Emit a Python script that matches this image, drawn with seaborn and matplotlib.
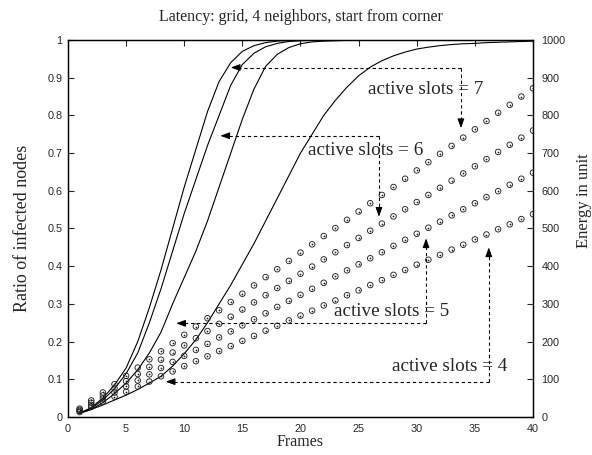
import matplotlib
matplotlib.use("Agg")
import matplotlib.pyplot as plt
import numpy as np
import pandas as pd
import seaborn as sns

# ---------------- data ----------------
frames = list(range(1, 41))
slot_labels = ["7", "6", "5", "4"]

ratio_s7 = [0.01, 0.025, 0.05, 0.085, 0.13, 0.20, 0.29, 0.39, 0.50, 0.61,
            0.71, 0.81, 0.89, 0.94, 0.97, 0.985, 0.993, 0.997, 0.999, 1.0,
            1.0, 1.0, 1.0, 1.0, 1.0, 1.0, 1.0, 1.0, 1.0, 1.0,
            1.0, 1.0, 1.0, 1.0, 1.0, 1.0, 1.0, 1.0, 1.0, 1.0]
ratio_s6 = [0.01, 0.023, 0.045, 0.075, 0.115, 0.17, 0.25, 0.34, 0.44, 0.54,
            0.63, 0.72, 0.80, 0.88, 0.935, 0.965, 0.982, 0.991, 0.996, 0.998,
            0.999, 1.0, 1.0, 1.0, 1.0, 1.0, 1.0, 1.0, 1.0, 1.0,
            1.0, 1.0, 1.0, 1.0, 1.0, 1.0, 1.0, 1.0, 1.0, 1.0]
ratio_s5 = [0.01, 0.02, 0.038, 0.062, 0.09, 0.125, 0.17, 0.225, 0.30, 0.37,
            0.44, 0.52, 0.61, 0.70, 0.79, 0.87, 0.93, 0.962, 0.98, 0.99,
            0.995, 0.997, 0.998, 0.999, 1.0, 1.0, 1.0, 1.0, 1.0, 1.0,
            1.0, 1.0, 1.0, 1.0, 1.0, 1.0, 1.0, 1.0, 1.0, 1.0]
ratio_s4 = [0.01, 0.02, 0.032, 0.045, 0.058, 0.073, 0.09, 0.108, 0.135, 0.168,
            0.205, 0.25, 0.30, 0.35, 0.405, 0.46, 0.52, 0.58, 0.64, 0.70,
            0.75, 0.80, 0.84, 0.875, 0.905, 0.928, 0.945, 0.958, 0.968, 0.976,
            0.981, 0.985, 0.988, 0.99, 0.991, 0.993, 0.994, 0.995, 0.996, 0.997]

energy_s7 = [22, 44, 65, 87, 109, 131, 153, 174, 196, 218,
             240, 262, 283, 305, 327, 349, 371, 392, 414, 436,
             458, 480, 501, 523, 545, 567, 589, 610, 632, 654,
             676, 698, 719, 741, 763, 785, 807, 828, 850, 872]
energy_s6 = [19, 38, 57, 76, 95, 114, 133, 152, 171, 190,
             209, 228, 247, 266, 285, 304, 323, 342, 361, 380,
             399, 418, 437, 456, 475, 494, 513, 532, 551, 570,
             589, 608, 627, 646, 665, 684, 703, 722, 741, 760]
energy_s5 = [16, 32, 49, 65, 81, 97, 113, 130, 146, 162,
             178, 194, 211, 227, 243, 259, 275, 292, 308, 324,
             340, 356, 373, 389, 405, 421, 437, 454, 470, 486,
             502, 518, 535, 551, 567, 583, 599, 616, 632, 648]
energy_s4 = [13, 27, 40, 54, 67, 81, 94, 108, 121, 135,
             148, 161, 175, 188, 202, 215, 229, 242, 256, 269,
             282, 296, 309, 323, 336, 350, 363, 377, 390, 404,
             417, 430, 444, 457, 471, 484, 498, 511, 525, 538]

title_text = "Latency: grid, 4 neighbors, start from corner"
x_label = "Frames"
y_label = "Ratio of infected nodes"
y2_label = "Energy in unit"
x_ticks = [0, 5, 10, 15, 20, 25, 30, 35, 40]
y_ticks = [0, 0.1, 0.2, 0.3, 0.4, 0.5, 0.6, 0.7, 0.8, 0.9, 1.0]
y_tick_labels = ["0", "0.1", "0.2", "0.3", "0.4", "0.5", "0.6", "0.7", "0.8", "0.9", "1"]
y2_ticks = [0, 100, 200, 300, 400, 500, 600, 700, 800, 900, 1000]
callout_texts = ["active slots = 7", "active slots = 6", "active slots = 5", "active slots = 4"]

# ---------------- tables ----------------
ratios = [ratio_s7, ratio_s6, ratio_s5, ratio_s4]
energies = [energy_s7, energy_s6, energy_s5, energy_s4]
df_ratio = pd.concat([pd.DataFrame({"frame": frames, "ratio": r, "slots": s})
                      for r, s in zip(ratios, slot_labels)], ignore_index=True)
df_energy = pd.concat([pd.DataFrame({"frame": frames, "energy": e, "slots": s})
                       for e, s in zip(energies, slot_labels)], ignore_index=True)

# ---------------- style ----------------
sns.set_style("white")
SERIF = ["Liberation Serif", "DejaVu Serif"]
SANS = ["Liberation Sans", "DejaVu Sans"]
plt.rcParams["font.family"] = SERIF
plt.rcParams["axes.linewidth"] = 0.9

fig = plt.figure(figsize=(5.92, 4.55), dpi=100)
ax = fig.add_axes([0.11486, 0.08352, 0.78547, 0.82857])
ax2 = ax.twinx()

sns.lineplot(data=df_ratio, x="frame", y="ratio", hue="slots",
             palette={s: "black" for s in slot_labels}, estimator=None,
             legend=False, linewidth=0.8, ax=ax)

sns.scatterplot(data=df_energy, x="frame", y="energy", marker="o", s=16,
                fc="none", ec="#222222", linewidth=0.65, legend=False, ax=ax2)
sns.scatterplot(data=df_energy, x="frame", y="energy", marker="o", s=1.6,
                color="#222222", linewidth=0, legend=False, ax=ax2)

ax.set_xlim(0, 40)
ax.set_ylim(0, 1)
ax2.set_ylim(0, 1000)

ax.set_xticks(x_ticks, labels=[str(t) for t in x_ticks], fontfamily=SANS, fontsize=7.8)
ax.set_yticks(y_ticks, labels=y_tick_labels, fontfamily=SANS, fontsize=7.8)
ax2.set_yticks(y2_ticks, labels=[str(t) for t in y2_ticks], fontfamily=SANS, fontsize=7.8)

ax.tick_params(axis="both", direction="in", length=4, width=0.8, top=True, right=False)
ax.tick_params(axis="x", pad=5)
ax.tick_params(axis="y", pad=4)
ax2.tick_params(axis="y", direction="in", length=4, width=0.8, pad=6)

for a in (ax, ax2):
    for sp in a.spines.values():
        sp.set_color("black")
        sp.set_linewidth(0.9)

ax.set_title(title_text, fontsize=11.5, pad=14)
ax.set_xlabel(x_label, fontsize=11.5)
ax.set_ylabel(y_label, fontsize=13)
ax2.set_ylabel(y2_label, fontsize=12)
ax.xaxis.set_label_coords(0.5, -0.045)
ax.yaxis.set_label_coords(-0.08, 0.5)
ax2.yaxis.set_label_coords(1.093, 0.575)

# ---------------- callouts ----------------
corners = [(33.8, 0.927), (26.75, 0.746), (30.8, 0.2485), (36.2, 0.0937)]
h_tips = [14.0, 13.1, 9.3, 8.4]
v_tips = [0.766, 0.531, 0.474, 0.45]
text_pos = [(30.8, 0.869), (25.65, 0.708), (27.8, 0.279), (32.8, 0.133)]

dash = (0, (3, 2.5))
head = dict(arrowstyle="-|>,head_length=0.55,head_width=0.2", color="black",
            lw=0.8, shrinkA=0, shrinkB=0)
for (xc, yc), xh, yv, (tx, ty), txt in zip(corners, h_tips, v_tips, text_pos, callout_texts):
    ax.plot([xc, xh + 0.3], [yc, yc], color="black", lw=0.8, ls=dash)
    dy = 0.012 if yv < yc else -0.012
    ax.plot([xc, xc], [yc, yv + dy], color="black", lw=0.8, ls=dash)
    ax.annotate("", xy=(xh, yc), xytext=(xh + 0.6, yc), arrowprops=head)
    ax.annotate("", xy=(xc, yv), xytext=(xc, yv + 2 * dy), arrowprops=head)
    ax.text(tx, ty, txt, ha="center", va="center", fontsize=13.8, fontfamily=SERIF)

fig.savefig("out.png", dpi=100)
